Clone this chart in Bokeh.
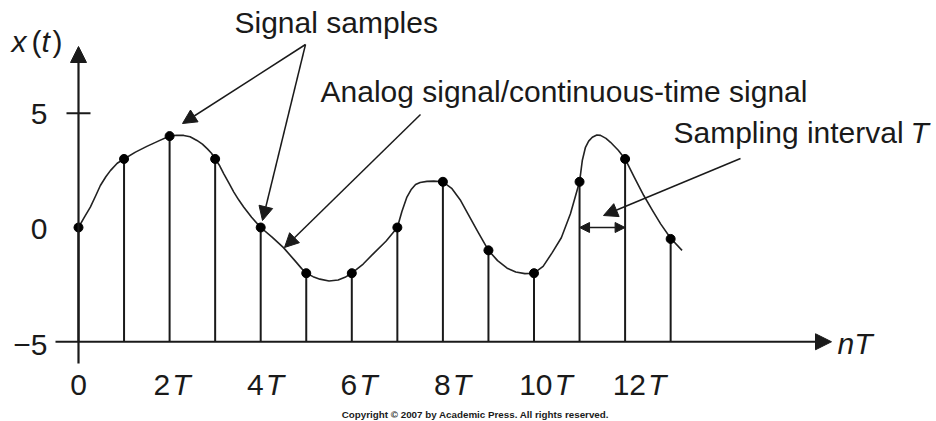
from bokeh.plotting import figure
from bokeh.models import Range1d, Arrow, NormalHead
from bokeh.core.properties import value
from bokeh.embed import file_html
from bokeh.resources import INLINE

# ---- data (time in units of the sampling interval T) ----
n_samples = [0, 1, 2, 3, 4, 5, 6, 7, 8, 9, 10, 11, 12, 13]
x_samples = [0, 3, 4, 3, 0, -2, -2, 0, 2, -1, -2, 2, 3, -0.5]

# analog (continuous-time) signal
t_curve = [0, 0.12, 0.26, 0.38, 0.48, 0.6, 0.7, 0.85, 1.0,
           1.25, 1.5, 1.75, 2.0,
           2.15, 2.31, 2.45, 2.6, 2.72, 2.83, 2.92, 3.0,
           3.1, 3.19, 3.3, 3.41, 3.52, 3.63, 3.8, 4.0,
           4.25, 4.5, 4.75, 4.9, 5.0,
           5.15, 5.3, 5.5, 5.7, 5.85, 6.0,
           6.25, 6.48, 6.75, 7.0,
           7.1, 7.21, 7.3, 7.4, 7.5, 7.65, 7.8, 8.0,
           8.2, 8.39, 8.55, 8.75, 8.9, 9.0,
           9.2, 9.41, 9.6, 9.8, 10.0,
           10.2, 10.4, 10.6, 10.8, 10.9, 11.0,
           11.06, 11.13, 11.2, 11.28, 11.38, 11.46, 11.58, 11.68, 11.85, 12.0,
           12.2, 12.41, 12.6, 12.78, 13.0, 13.25]
x_curve = [0, 0.42, 0.89, 1.4, 1.84, 2.22, 2.49, 2.81, 3.0,
           3.3, 3.55, 3.78, 4.0,
           4.04, 4.03, 3.97, 3.81, 3.65, 3.44, 3.25, 3.0,
           2.7, 2.35, 1.95, 1.55, 1.2, 0.89, 0.45, 0.0,
           -0.42, -0.88, -1.45, -1.8, -2.0,
           -2.15, -2.26, -2.34, -2.3, -2.18, -2.0,
           -1.6, -1.13, -0.6, 0.0,
           0.7, 1.33, 1.65, 1.88, 1.97, 2.02, 2.03, 2.0,
           1.7, 1.18, 0.6, -0.13, -0.65, -1.0,
           -1.45, -1.78, -1.95, -2.02, -2.0,
           -1.7, -1.1, -0.45, 0.6, 1.3, 2.0,
           2.93, 3.51, 3.78, 3.95, 4.05, 4.03, 3.9, 3.73, 3.38, 3.0,
           2.2, 1.4, 0.75, 0.16, -0.47, -1.0]

y_tick_vals = [5, 0, -5]
y_tick_labels = ["5", "0", "\u22125"]
x_tick_vals = [0, 2, 4, 6, 8, 10, 12]
x_tick_nums = ["0", "2", "4", "6", "8", "10", "12"]

# ---- figure geometry ----
W, H = 936, 421
X0_PX, T_PX = 78.0, 45.55      # x=0 position (px), pixels per T
Y0_PX, U_PX = 227.0, 22.85     # y=0 position (px from top), pixels per unit

x_lo = -X0_PX / T_PX
x_hi = (W - X0_PX) / T_PX
y_hi = Y0_PX / U_PX
y_lo = -(H - Y0_PX) / U_PX

p = figure(width=W, height=H, output_backend="svg", toolbar_location=None,
           x_range=Range1d(x_lo, x_hi), y_range=Range1d(y_lo, y_hi),
           min_border=0, min_border_left=0, min_border_right=0,
           min_border_top=0, min_border_bottom=0)
p.axis.visible = False
p.grid.visible = False
p.outline_line_color = None
p.background_fill_color = "white"
p.border_fill_color = "white"

# helpers: picture pixel -> data coords, for annotations only
def px(x_img):
    return (x_img - X0_PX) / T_PX

def py(y_img):
    return (Y0_PX - y_img) / U_PX

FONT = value("Liberation Sans")
INK = "#1a1a1a"

# ---- axes drawn as arrows ----
y_base = y_tick_vals[-1]
p.add_layout(Arrow(end=NormalHead(size=16, fill_color=INK, line_color=INK),
                   x_start=px(55), y_start=y_base, x_end=px(831), y_end=y_base,
                   line_width=2.2, line_color=INK))
p.add_layout(Arrow(end=NormalHead(size=16, fill_color=INK, line_color=INK),
                   x_start=0, y_start=py(363), x_end=0, y_end=py(46),
                   line_width=2.2, line_color=INK))
# tick mark at y = 5
p.segment(x0=[px(66)], y0=[y_tick_vals[0]], x1=[px(90)], y1=[y_tick_vals[0]],
          line_color=INK, line_width=2)

# ---- stems, curve, sample dots ----
p.segment(x0=n_samples, y0=[y_base] * len(n_samples), x1=n_samples, y1=x_samples,
          line_color=INK, line_width=2)
p.line(t_curve, x_curve, line_color="#222222", line_width=1.6, line_join="round")
p.scatter(n_samples, x_samples, size=9, fill_color="black", line_color="black")

# ---- y tick labels ----
p.text(x=[px(47)] * len(y_tick_vals), y=y_tick_vals, text=y_tick_labels,
       text_font=FONT, text_font_size="30px", text_align="right",
       text_baseline="middle", text_color=INK, y_offset=[1, 1, 3])

# ---- x tick labels (number upright, T italic) ----
FS = 30
num_x, num_txt, t_x = [], [], []
for v, s in zip(x_tick_vals, x_tick_nums):
    c_off = (46.75 - T_PX) * v          # labels sit slightly wider apart than ticks
    if s == "0":
        continue
    w_num = 0.556 * FS * len(s)
    w_tot = w_num + 2 + 0.611 * FS
    split = c_off - w_tot / 2 + w_num
    num_x.append(split)
    t_x.append(split + 2)
    num_txt.append(s)
nums_v = [v for v, s in zip(x_tick_vals, x_tick_nums) if s != "0"]
lab_y = py(384)
p.text(x=[0], y=[lab_y], text=["0"], text_font=FONT, text_font_size="30px",
       text_align="center", text_baseline="middle", text_color=INK)
p.text(x=nums_v, y=[lab_y] * len(nums_v), text=num_txt, x_offset=num_x,
       text_font=FONT, text_font_size="30px", text_align="right",
       text_baseline="middle", text_color=INK)
p.text(x=nums_v, y=[lab_y] * len(nums_v), text=["T"] * len(nums_v), x_offset=t_x,
       text_font=FONT, text_font_size="30px", text_font_style="italic",
       text_align="left", text_baseline="middle", text_color=INK)

# axis titles
p.text(x=[px(837)], y=[py(343)], text=["nT"], text_font=FONT, text_font_size="30px",
       text_font_style="italic", text_align="left", text_baseline="middle", text_color=INK)
p.text(x=[px(11), px(41)], y=[py(41)] * 2, text=["x", "t"], text_font=FONT,
       text_font_size="30px", text_font_style="italic", text_align="left",
       text_baseline="middle", text_color=INK)
p.text(x=[px(31), px(52)], y=[py(41)] * 2, text=["(", ")"], text_font=FONT,
       text_font_size="30px", text_align="left", text_baseline="middle", text_color=INK)

# ---- annotations ----
p.text(x=[px(234), px(320), px(673)], y=[py(22), py(91), py(132)],
       text=["Signal samples", "Analog signal/continuous-time signal", "Sampling interval "],
       text_font=FONT, text_font_size="30px", text_align="left",
       text_baseline="middle", text_color=INK)
p.text(x=[px(910)], y=[py(132)], text=["T"], text_font=FONT, text_font_size="30px",
       text_font_style="italic", text_align="left", text_baseline="middle", text_color=INK)

def pointer(x0, y0, x1, y1, size=14):
    p.add_layout(Arrow(end=NormalHead(size=size, fill_color=INK, line_color=INK),
                       x_start=px(x0), y_start=py(y0), x_end=px(x1), y_end=py(y1),
                       line_width=1.5, line_color=INK))

pointer(305, 44, 182, 123)
pointer(305, 44, 262, 220)
pointer(420, 114, 284, 247)
pointer(740, 158, 603, 215)

# sampling interval double arrow between samples 11 and 12
p.add_layout(Arrow(start=NormalHead(size=10, fill_color=INK, line_color=INK),
                   end=NormalHead(size=10, fill_color=INK, line_color=INK),
                   x_start=n_samples[11], y_start=py(227), x_end=n_samples[12], y_end=py(227),
                   line_width=1.5, line_color=INK))

# copyright line
p.text(x=[px(475)], y=[py(414)], text=["Copyright \u00a9 2007 by Academic Press. All rights reserved."],
       text_font=FONT, text_font_size="9.8px", text_font_style="bold",
       text_align="center", text_baseline="middle", text_color=INK)

open("out.html", "w").write(file_html(p, INLINE))
